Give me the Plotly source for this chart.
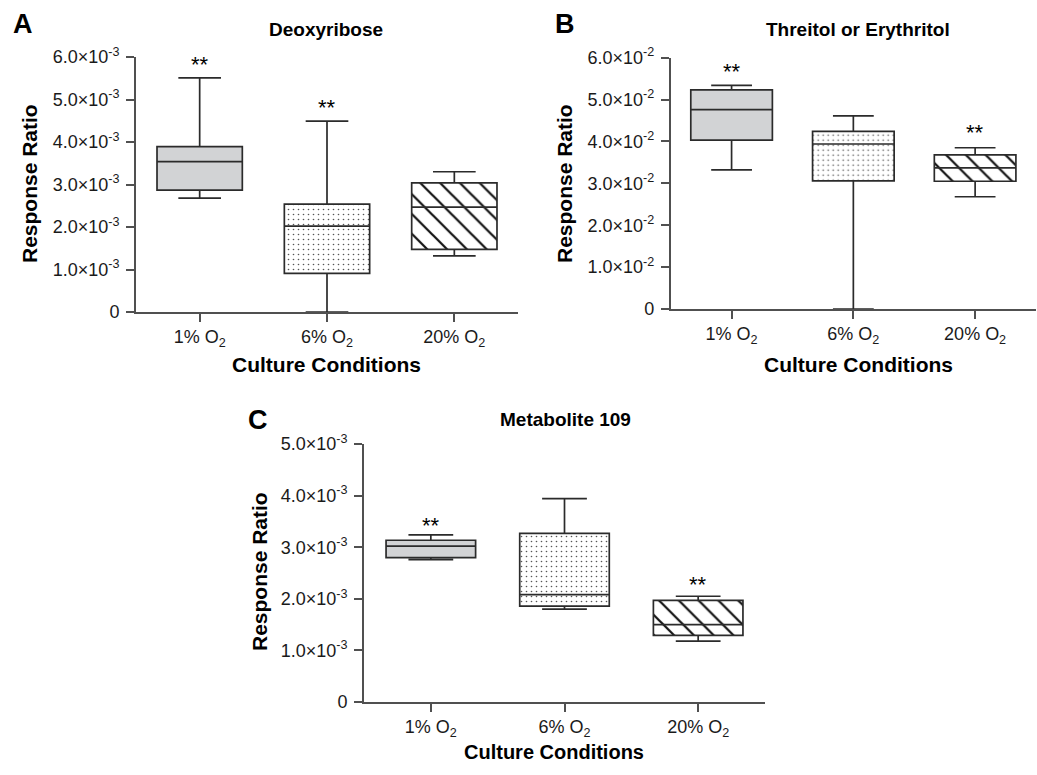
import plotly.graph_objects as go

W, H = 1037, 775

categories = ["1% O2", "6% O2", "20% O2"]
cat_labels = ["1% O<sub>2</sub>", "6% O<sub>2</sub>", "20% O<sub>2</sub>"]

# Panel A - Deoxyribose
deoxy_lower = [0.00268, 0.0, 0.00132]
deoxy_q1 = [0.00287, 0.00091, 0.001475]
deoxy_median = [0.00354, 0.00202, 0.00247]
deoxy_q3 = [0.00389, 0.00254, 0.00304]
deoxy_upper = [0.00551, 0.00449, 0.00330]
deoxy_sig = ["**", "**", ""]

# Panel B - Threitol or Erythritol
threi_lower = [0.0332, 0.0, 0.0268]
threi_q1 = [0.0403, 0.0306, 0.0305]
threi_median = [0.0476, 0.0394, 0.0337]
threi_q3 = [0.0523, 0.0424, 0.0368]
threi_upper = [0.0534, 0.0461, 0.0385]
threi_sig = ["**", "", "**"]

# Panel C - Metabolite 109
met_lower = [0.00276, 0.00180, 0.00118]
met_q1 = [0.00280, 0.00186, 0.00129]
met_median = [0.00302, 0.00208, 0.00150]
met_q3 = [0.003135, 0.00327, 0.00197]
met_upper = [0.00324, 0.00394, 0.00205]
met_sig = ["**", "", "**"]

yticks_A = [0, 0.001, 0.002, 0.003, 0.004, 0.005, 0.006]
yticks_A_text = ["0", "1.0×10<sup>-3</sup>", "2.0×10<sup>-3</sup>", "3.0×10<sup>-3</sup>",
                 "4.0×10<sup>-3</sup>", "5.0×10<sup>-3</sup>", "6.0×10<sup>-3</sup>"]
yticks_B = [0, 0.01, 0.02, 0.03, 0.04, 0.05, 0.06]
yticks_B_text = ["0", "1.0×10<sup>-2</sup>", "2.0×10<sup>-2</sup>", "3.0×10<sup>-2</sup>",
                 "4.0×10<sup>-2</sup>", "5.0×10<sup>-2</sup>", "6.0×10<sup>-2</sup>"]
yticks_C = [0, 0.001, 0.002, 0.003, 0.004, 0.005]
yticks_C_text = ["0", "1.0×10<sup>-3</sup>", "2.0×10<sup>-3</sup>", "3.0×10<sup>-3</sup>",
                 "4.0×10<sup>-3</sup>", "5.0×10<sup>-3</sup>"]

FONT = "Liberation Sans, Arial, Helvetica, sans-serif"
LINE = "#2b2b2b"
AXC = "#505050"
fill_colors = ["#d2d3d5", "white", "white"]
patterns = ["", ".", "\\"]
pattern_fg = ["#111111", "#555555", "#111111"]
pattern_sizes = [8, 5, 14]
pattern_solid = [0.1, 0.08, 0.16]

def px(x):
    return x / W

def py(y):
    # map a target picture row to paper coordinates
    fy = (y - 12.0) / 0.9716
    return min(1.0, max(0.0, 1 - fy / H))

fig = go.Figure()

panels = [
    ("x", "y", deoxy_lower, deoxy_q1, deoxy_median, deoxy_q3, deoxy_upper),
    ("x2", "y2", threi_lower, threi_q1, threi_median, threi_q3, threi_upper),
    ("x3", "y3", met_lower, met_q1, met_median, met_q3, met_upper),
]

for xa, ya, lo, q1, med, q3, up in panels:
    for i, c in enumerate(categories):
        if patterns[i]:
            pat = dict(shape=patterns[i], fgcolor=pattern_fg[i], bgcolor="white",
                       fgopacity=1, size=pattern_sizes[i], solidity=pattern_solid[i],
                       fillmode="overlay")
        else:
            pat = dict(shape="")
        fig.add_trace(go.Bar(
            x=[c], y=[q3[i] - q1[i]], base=[q1[i]],
            width=0.67, xaxis=xa, yaxis=ya, showlegend=False, hoverinfo="skip",
            marker=dict(color=fill_colors[i], line=dict(width=0), pattern=pat),
        ))
for xa, ya, lo, q1, med, q3, up in panels:
    fig.add_trace(go.Box(
        x=categories, q1=q1, median=med, q3=q3, lowerfence=lo, upperfence=up,
        width=0.67, whiskerwidth=0.5, boxpoints=False,
        fillcolor="rgba(0,0,0,0)", line=dict(color=LINE, width=1.7),
        xaxis=xa, yaxis=ya, showlegend=False, hoverinfo="skip",
    ))

TICKFONT = dict(family=FONT, size=18, color="#1a1a1a")

def xaxis_cfg(dom, anchor):
    return dict(domain=dom, anchor=anchor, type="category", range=[-0.5, 2.5],
                categoryorder="array", categoryarray=categories,
                tickvals=categories, ticktext=cat_labels,
                showline=True, linecolor=AXC, linewidth=1.7,
                ticks="outside", ticklen=8, tickwidth=1.5, tickcolor=AXC,
                showgrid=False, zeroline=False, tickfont=TICKFONT,
                ticklabelstandoff=0)

def yaxis_cfg(dom, anchor, rng, tv, tt):
    return dict(domain=dom, anchor=anchor, range=rng, tickvals=tv, ticktext=tt,
                showline=True, linecolor=AXC, linewidth=1.7,
                ticks="outside", ticklen=8, tickwidth=1.5, tickcolor=AXC,
                showgrid=False, zeroline=False, tickfont=TICKFONT,
                ticklabelstandoff=3)

fig.update_layout(
    width=W, height=H, margin=dict(l=0, r=0, t=0, b=0),
    paper_bgcolor="white", plot_bgcolor="white",
    barmode="overlay", boxmode="overlay",
    xaxis=xaxis_cfg([px(136), px(518)], "y"),
    yaxis=yaxis_cfg([py(312), py(57)], "x", [0, 0.006], yticks_A, yticks_A_text),
    xaxis2=xaxis_cfg([px(670.7), px(1036)], "y2"),
    yaxis2=yaxis_cfg([py(309), py(57.7)], "x2", [0, 0.06], yticks_B, yticks_B_text),
    xaxis3=xaxis_cfg([px(364), px(765)], "y3"),
    yaxis3=yaxis_cfg([py(702), py(444)], "x3", [0, 0.005], yticks_C, yticks_C_text),
)

ann = []
def text(x, y, s, size, bold=True, angle=0, yanchor="middle"):
    ann.append(dict(x=px(x), y=py(y), xref="paper", yref="paper", text=s,
                    showarrow=False, textangle=angle, xanchor="center", yanchor=yanchor,
                    font=dict(family=FONT, size=size, color="black",
                              weight="bold" if bold else "normal")))

# panel letters
text(23, 24, "A", 27)
text(565, 24, "B", 27)
text(258, 420, "C", 27)
# panel titles
text(326, 29, "Deoxyribose", 19)
text(858, 29, "Threitol or Erythritol", 19)
text(565, 419, "Metabolite 109", 19)
# axis titles
text(29, 184, "Response Ratio", 21, angle=-90)
text(564, 184, "Response Ratio", 21, angle=-90)
text(259, 572, "Response Ratio", 21, angle=-90)
text(326, 364, "Culture Conditions", 21)
text(858, 364, "Culture Conditions", 21)
text(554, 775, "Culture Conditions", 20, yanchor="bottom")

# significance stars above upper whiskers
star_sets = [("x", "y", deoxy_upper, deoxy_sig, [-1, -1, 0]),
             ("x2", "y2", threi_upper, threi_sig, [-1, 0, 1]),
             ("x3", "y3", met_upper, met_sig, [-5, 0, -3])]
for xa, ya, up, sig, shifts in star_sets:
    for c, u, s, sh in zip(categories, up, sig, shifts):
        if s:
            ann.append(dict(x=c, y=u, xref=xa, yref=ya, text=s, showarrow=False,
                            xanchor="center", yanchor="bottom", yshift=sh,
                            font=dict(family=FONT, size=22, color="black")))

fig.update_layout(annotations=ann)
POST = ("document.documentElement.style.margin='0px';"
        "document.body.style.margin='0px';document.body.style.padding='0px';"
        "document.body.style.overflow='hidden';")
fig.write_html("out.html", config={"displayModeBar": False}, post_script=POST)
